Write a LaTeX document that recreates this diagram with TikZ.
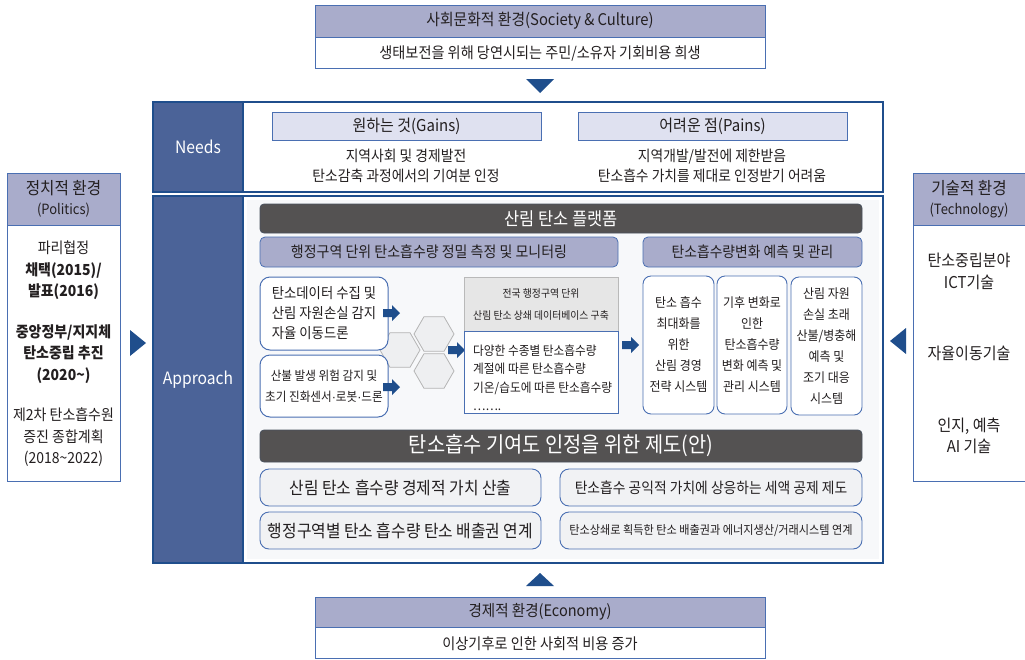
\documentclass[tikz,border=0pt]{standalone}
\usepackage{fontspec}
\setmainfont{Noto Sans CJK KR}[FakeStretch=0.92]
\newfontfamily\dotfont{Liberation Sans}
\usetikzlibrary{shapes.geometric}
\definecolor{dblue}{HTML}{1F4E8C}
\definecolor{colfill}{HTML}{4B6398}
\definecolor{lav}{HTML}{A9ACCB}
\definecolor{lavlight}{HTML}{DFE1F0}
\definecolor{bblue}{HTML}{4A6FB2}
\definecolor{dgray}{HTML}{545252}
\definecolor{txt}{HTML}{231F20}
\definecolor{hexfill}{HTML}{EEEFF1}
\definecolor{hexline}{HTML}{B5B5B5}
\definecolor{innerbg}{HTML}{F7F8FA}
\definecolor{boxfill}{HTML}{F1F2F4}
\definecolor{dbhead}{HTML}{E6E6E6}
\newcommand{\myfs}[2]{\fontsize{#1}{#2}\selectfont}
\newcommand{\mdot}{{\dotfont ·}}
\tikzset{
  every node/.style={text=txt, inner sep=0pt},
  envhead/.style={draw=bblue, line width=0.8pt, fill=lav, align=center},
  envbody/.style={draw=bblue, line width=0.8pt, fill=white, align=center},
  labcol/.style={fill=colfill, draw=dblue, line width=2pt, minimum width=90pt, text=white, font=\myfs{17}{19}},
  gainhead/.style={draw=bblue, line width=0.8pt, fill=lavlight, minimum width=269pt, minimum height=28pt, font=\myfs{16.3}{18}},
  darkhead/.style={fill=dgray, draw=dgray!80!dblue, line width=0.8pt, rounded corners=4pt, minimum width=602pt, text=white},
  subhead/.style={fill=lav, draw=bblue, line width=0.8pt, rounded corners=5pt, minimum height=30pt},
  hexa/.style={regular polygon, regular polygon sides=6, minimum size=40pt, fill=hexfill, draw=hexline, line width=0.8pt},
  lbox/.style={draw=bblue, line width=1pt, fill=white, rounded corners=10pt, minimum width=128pt},
  sbox/.style={draw=bblue, line width=0.9pt, fill=white, rounded corners=8pt, minimum height=138pt, align=center, font=\myfs{13}{21}},
  bbox/.style={draw=bblue, line width=0.9pt, fill=boxfill, rounded corners=9pt, minimum height=37pt},
  barrow/.pic={\fill[dblue] (0,-4) -- (9,-4) -- (9,-8) -- (17,0) -- (9,8) -- (9,4) -- (0,4) -- cycle;}
}
\begin{document}
\begin{tikzpicture}[x=1pt,y=-1pt]
\useasboundingbox (0,0) rectangle (1025,659);
\fill[white] (0,0) rectangle (1025,659);

% Society
\node[envhead, minimum width=450pt, minimum height=32pt, font=\myfs{16.1}{18}] (soch) at (540,21) {사회문화적 환경(Society \& Culture)};
\node[envbody, minimum width=450pt, minimum height=31pt, font=\myfs{15.4}{17}, anchor=north] (socb) at (soch.south) {생태보전을 위해 당연시되는 주민/소유자 기회비용 희생};
\fill[dblue] (526,79) -- (554,79) -- (540,93) -- cycle;

% Needs
\node[draw=dblue, line width=2.5pt, minimum width=730pt, minimum height=90pt] (needs) at (518,147) {};
\node[labcol, minimum height=90pt] (needsl) at (198,147) {Needs};
\node[gainhead] (gains) at (406.5,126) {원하는 것(Gains)};
\node[font=\myfs{15}{20.5}, align=center] (gainst) at (406,166) {지역사회 및 경제발전\\탄소감축 과정에서의 기여분 인정};
\node[gainhead] (pains) at (712.5,126) {어려운 점(Pains)};
\node[font=\myfs{15}{20.5}, align=center] (painst) at (712,166) {지역개발/발전에 제한받음\\탄소흡수 가치를 제대로 인정받기 어려움};

% Approach
\fill[innerbg] (247,200) rectangle (879,559);
\node[labcol, minimum height=367pt] (apprl) at (198,379.5) {Approach};

\node[darkhead, minimum height=29pt, font=\myfs{17.9}{20}] (plat) at (561,218.5) {산림 탄소 플랫폼};
\node[subhead, minimum width=358pt] (sub1) at (439,252) {};
\node[font=\myfs{15.2}{17}] (sub1t) at (429,252) {행정구역 단위 탄소흡수량 정밀 측정 및 모니터링};
\node[subhead, minimum width=219pt, font=\myfs{15}{17}] (sub2) at (752.5,252) {탄소흡수량변화 예측 및 관리};

% hexagons
\node[hexa] (h1) at (400,350) {};
\node[hexa] (h2) at (434,334) {};
\node[hexa] (h3) at (434,371) {};

\node[lbox, minimum height=73pt, align=left, font=\myfs{14.5}{20}] (lb1) at (324,313.5) {탄소데이터 수집 및\\산림 자원손실 감지\\자율 이동드론};
\node[lbox, minimum height=62pt, align=center, font=\myfs{12.6}{21}] (lb2) at (324,386) {산불 발생 위험 감지 및\\초기 진화센서\mdot 로봇\mdot 드론};

\pic at (383,313) {barrow};
\pic at (383,387) {barrow};
\pic at (448,350) {barrow};
\pic at (622,345) {barrow};

% database
\node[draw=gray!55, line width=0.8pt, fill=dbhead, minimum width=154pt, minimum height=54pt, align=center, font=\myfs{10.7}{22}] (dbh) at (541,304) {전국 행정구역 단위\\산림 탄소 상쇄 데이터베이스 구축};
\node[draw=bblue, line width=0.8pt, fill=white, minimum width=154pt, minimum height=82pt, anchor=north] (dbb) at (dbh.south) {};
\node[anchor=west, align=left, font=\myfs{12.7}{18.5}] (dbt) at (473,377.5) {다양한 수종별 탄소흡수량\\계절에 따른 탄소흡수량\\기온/습도에 따른 탄소흡수량\\…….};

% systems
\node[sbox, minimum width=71pt] (sa) at (678.5,345) {탄소 흡수\\최대화를\\위한\\산림 경영\\전략 시스템};
\node[sbox, minimum width=70pt] (sb) at (752,345) {기후 변화로\\인한\\탄소흡수량\\변화 예측 및\\관리 시스템};
\node[sbox, minimum width=71pt] (sc) at (826.5,346) {산림 자원\\손실 초래\\산불/병충해\\예측 및\\조기 대응\\시스템};

% institution
\node[darkhead, minimum height=32pt, font=\myfs{21.5}{23}] (inst) at (561,446) {탄소흡수 기여도 인정을 위한 제도(안)};
\node[bbox, minimum width=281pt, font=\myfs{17.2}{19}] (b1) at (400.5,487.5) {산림 탄소 흡수량 경제적 가치 산출};
\node[bbox, minimum width=302pt, font=\myfs{15}{17}] (b2) at (711,487.5) {탄소흡수 공익적 가치에 상응하는 세액 공제 제도};
\node[bbox, minimum width=281pt, font=\myfs{17.2}{19}] (b3) at (400.5,530.5) {행정구역별 탄소 흡수량 탄소 배출권 연계};
\node[bbox, minimum width=302pt, font=\myfs{12.1}{14}] (b4) at (711,530.5) {탄소상쇄로 획득한 탄소 배출권과 에너지생산/거래시스템 연계};

\node[draw=dblue, line width=2.5pt, minimum width=730pt, minimum height=367pt] (appr) at (518,379.5) {};

% Economy
\fill[dblue] (526,586) -- (554,586) -- (540,573) -- cycle;
\node[envhead, minimum width=450pt, minimum height=30pt, font=\myfs{15.8}{18}] (ecoh) at (540,612) {경제적 환경(Economy)};
\node[envbody, minimum width=450pt, minimum height=31pt, font=\myfs{15.4}{17}, anchor=north] (ecob) at (ecoh.south) {이상기후로 인한 사회적 비용 증가};

% Politics
\node[envhead, minimum width=113pt, minimum height=52pt, font=\myfs{17}{20}] (polh) at (63.5,199) {정치적 환경\\{\myfs{14.1}{20}(Politics)}};
\node[envbody, minimum width=113pt, minimum height=256pt, anchor=north, font=\myfs{15.2}{21.5}] (polb) at (polh.south) {파리협정\\\textbf{채택(2015)/}\\\textbf{발표(2016)}\\[19pt]\textbf{중앙정부/지지체}\\\textbf{탄소중립 추진}\\\textbf{(2020\textasciitilde)}\\[19pt]제2차 탄소흡수원\\증진 종합계획\\(2018\textasciitilde2022)};
\fill[dblue] (130,330) -- (146,343) -- (130,356) -- cycle;

% Technology
\node[envhead, minimum width=112pt, minimum height=52pt, font=\myfs{17}{20}] (tech) at (969,199) {기술적 환경\\{\myfs{14.1}{20}(Technology)}};
\node[envbody, minimum width=112pt, minimum height=256pt, anchor=north, font=\myfs{16.3}{21.5}] (techb) at (tech.south) {탄소중립분야\\ICT기술\\[50pt]자율이동기술\\[50pt]인지, 예측\\AI 기술};
\fill[dblue] (906,328) -- (890,341) -- (906,354) -- cycle;
\end{tikzpicture}
\end{document}
